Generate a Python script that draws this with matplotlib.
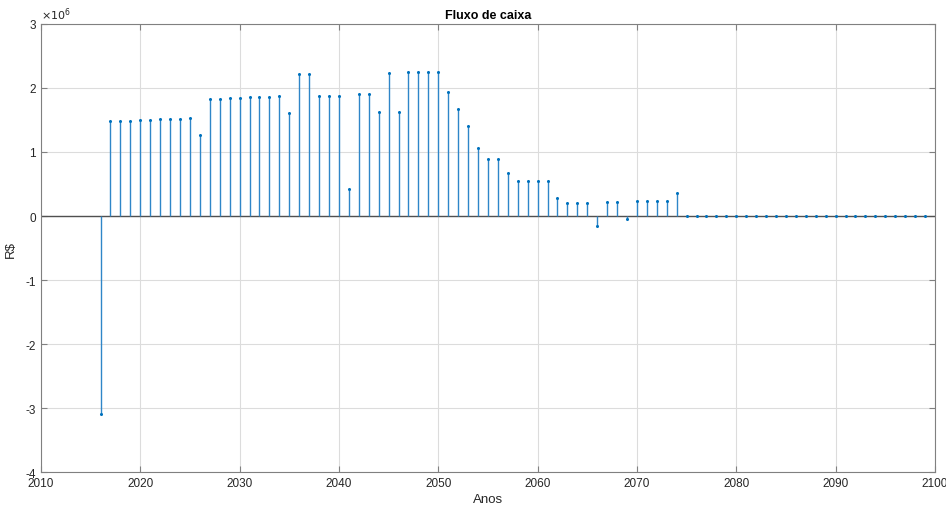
import matplotlib.pyplot as plt
import numpy as np

plt.rcParams["font.family"] = ["Liberation Sans", "DejaVu Sans"]

anos = np.arange(2016, 2100)

# fluxo de caixa anual, em milhoes de R$
fluxo_inicio = [
    -3.09, 1.48, 1.486, 1.49, 1.50, 1.50, 1.51, 1.51, 1.52, 1.53,
    1.26, 1.83, 1.83, 1.84, 1.85, 1.855, 1.86, 1.865, 1.87, 1.61,
    2.22, 2.22, 1.87, 1.87, 1.87, 0.415, 1.91, 1.91, 1.63, 2.24,
    1.62, 2.245, 2.245, 2.245, 2.245, 1.93, 1.67, 1.40, 1.06, 0.89,
    0.89, 0.675, 0.54, 0.54, 0.54, 0.54, 0.275, 0.21, 0.21, 0.21,
    -0.15, 0.22, 0.22, -0.04, 0.23, 0.23, 0.23, 0.23, 0.36,
]
fluxo = np.array(fluxo_inicio + [0.0] * (len(anos) - len(fluxo_inicio))) * 1e6

cor = "#2f86c8"
cinza = "#262626"

fig = plt.figure(figsize=(9.46, 5.1), dpi=100)
ax = fig.add_axes([0.0433, 0.0725, 0.945, 0.8785])

ml, sl, bl = ax.stem(anos, fluxo, basefmt=" ")
plt.setp(sl, color=cor, linewidth=1.0)
plt.setp(ml, color="#0072BD", marker="o", markersize=1.2)
ax.axhline(0, color="#505050", linewidth=1.0, zorder=1)

ax.set_xlim(2010, 2100)
ax.set_ylim(-4e6, 3e6)
ax.set_xticks(np.arange(2010, 2101, 10))
ax.set_yticks(np.arange(-4, 4) * 1e6)
ax.set_yticklabels([str(v) for v in range(-4, 4)])
ax.text(0.0, 1.005, r"$\times10^{6}$", transform=ax.transAxes, fontsize=8,
        color=cinza, ha="left", va="bottom")

ax.grid(True, color="#dcdcdc", linewidth=0.8)
ax.set_axisbelow(True)
for s in ax.spines.values():
    s.set_color("#808080")
    s.set_linewidth(0.8)
ax.tick_params(direction="in", length=4, colors="#808080", labelcolor=cinza,
               labelsize=8.5, top=True, right=True)

ax.set_title("Fluxo de caixa", fontsize=9, fontweight="bold", color="black", pad=4)
ax.set_xlabel("Anos", fontsize=9.5, color=cinza, labelpad=3)
ax.set_ylabel("R$", fontsize=9.5, color=cinza, labelpad=6)

fig.savefig("out.png", dpi=100)
